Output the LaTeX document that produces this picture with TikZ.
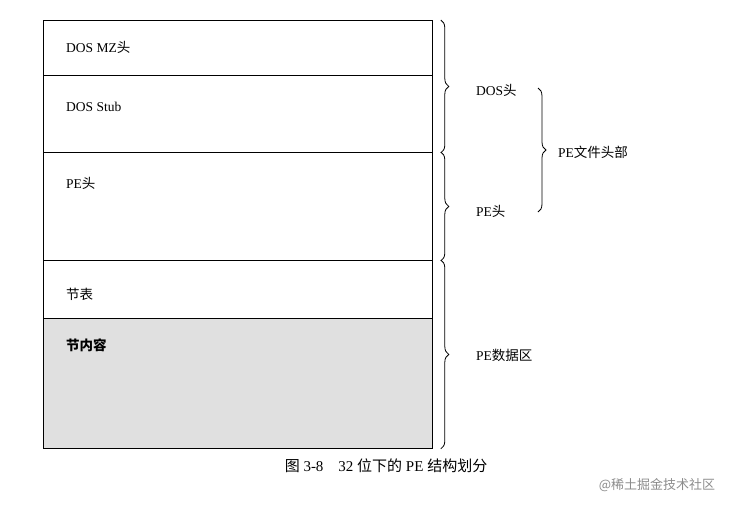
\documentclass[tikz,border=0pt]{standalone}
\usepackage{fontspec}
\setmainfont{Liberation Serif}
\newfontfamily\cjk{Noto Sans CJK SC}
\usetikzlibrary{positioning,decorations.pathreplacing}

\begin{document}
\begin{tikzpicture}[x=1pt, y=-1pt, font=\fontsize{13.5}{16}\selectfont,
  cell/.style={draw, line width=0.8pt, minimum width=389pt, anchor=north west, inner sep=0pt},
  txt/.style={anchor=west, inner sep=0pt},
  br/.style={decorate, decoration={brace, amplitude=8pt}, line width=0.8pt},
  lbl/.style={anchor=west, inner sep=0pt}]
	\useasboundingbox (0,0) rectangle (740,507);
	\node[cell, minimum height=55pt] (mz) at (43,20) {};
	\node[cell, minimum height=77pt] (stub) at (43,75) {};
	\node[cell, minimum height=108pt] (pe) at (43,152) {};
	\node[cell, minimum height=58pt] (tab) at (43,260) {};
	\node[cell, minimum height=130pt, fill=black!12] (sec) at (43,318) {};

	\node[txt] at (66,47) {DOS MZ{\cjk 头}};
	\node[txt] at (66,107) {DOS Stub};
	\node[txt] at (66,183) {PE{\cjk 头}};
	\node[txt] at (66,294) {\cjk 节表};
	\node[txt] at (66,345) {\cjk\bfseries 节内容};

	\draw[br] ([xshift=8pt]mz.north east) -- ([xshift=8pt]stub.south east);
	\node[lbl] (doslbl) at (476,90) {DOS{\cjk 头}};
	\draw[br] ([xshift=8pt]pe.north east) -- ([xshift=8pt]pe.south east);
	\node[lbl] (pelbl) at (476,211) {PE{\cjk 头}};
	\draw[br] ([xshift=8pt]tab.north east) -- ([xshift=8pt]sec.south east);
	\node[lbl] (datalbl) at (476,355) {PE{\cjk 数据区}};
	\draw[br] (538,88) -- (538,212);
	\node[lbl] (hdrlbl) at (558,152) {PE{\cjk 文件头部}};

	\node[font=\fontsize{15}{18}\selectfont] (cap) at (386,466) {{\cjk 图} 3-8\quad 32 {\cjk 位下的} PE {\cjk 结构划分}};
	\node[text=black!45, font=\cjk\fontsize{13}{15}\selectfont] (wm) at (657,485) {@稀土掘金技术社区};
\end{tikzpicture}
\end{document}
